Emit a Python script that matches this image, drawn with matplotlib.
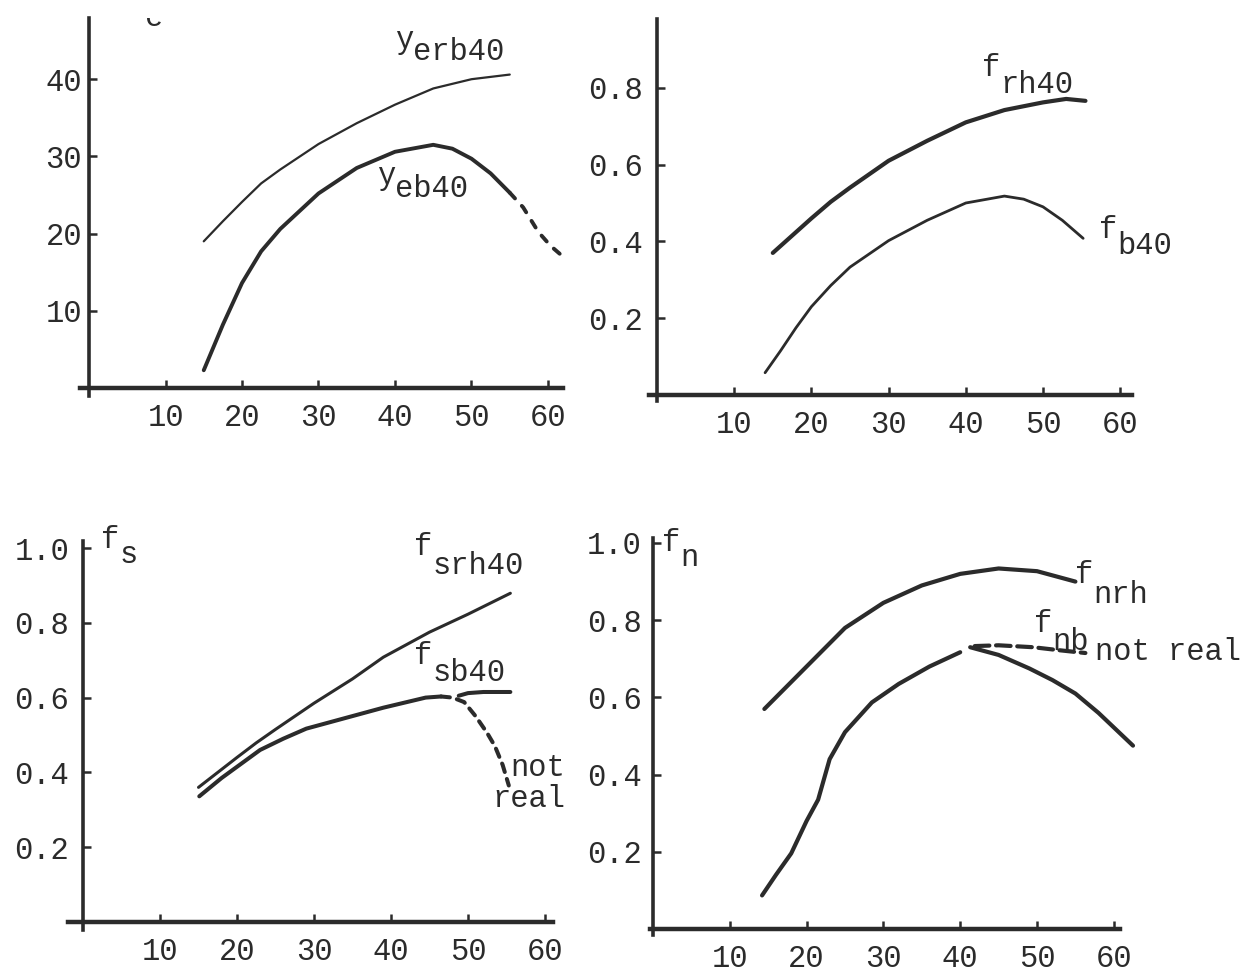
import matplotlib
matplotlib.use("Agg")
import matplotlib.pyplot as plt

plt.rcParams['font.family'] = ['Liberation Mono', 'DejaVu Sans Mono']
plt.rcParams['font.size'] = 22

INK = '#2b2b2b'
W, H = 1259, 975

# --- yields (upper left) ---
yerb_x = [15, 17.5, 20, 22.5, 25, 30, 35, 40, 45, 50, 55]
yerb_y = [19, 21.6, 24.1, 26.5, 28.3, 31.6, 34.3, 36.7, 38.8, 40.0, 40.6]
yeb_x = [15, 17.5, 20, 22.5, 25, 30, 35, 40, 45, 47.5, 50, 52.5, 55]
yeb_y = [2.3, 8.2, 13.6, 17.7, 20.6, 25.2, 28.5, 30.6, 31.5, 31.0, 29.7, 27.8, 25.3]
yeb_ext_x = [55, 56.75, 58.75, 60.35, 61.75]
yeb_ext_y = [25.3, 23.4, 20.2, 18.4, 17.2]

# --- f_rh40 / f_b40 (upper right) ---
frh_x = [15, 17.5, 20, 22.5, 25, 30, 35, 40, 45, 50, 53, 55.5]
frh_y = [0.37, 0.415, 0.46, 0.503, 0.54, 0.61, 0.662, 0.71, 0.742, 0.762, 0.771, 0.766]
fb_x = [14, 16, 18, 20, 22.5, 25, 30, 35, 40, 45, 47.5, 50, 52.5, 55.2]
fb_y = [0.058, 0.115, 0.175, 0.23, 0.285, 0.333, 0.402, 0.455, 0.5, 0.518, 0.51, 0.49, 0.455, 0.408]

# --- f_s (lower left) ---
fsrh_x = [15, 20, 22.5, 25, 30, 35, 39, 45, 50, 55.5]
fsrh_y = [0.36, 0.44, 0.479, 0.515, 0.585, 0.65, 0.708, 0.775, 0.823, 0.879]
fsb_x = [15.1, 18, 20, 23, 26, 29, 34, 39, 44.5, 46.5]
fsb_y = [0.336, 0.385, 0.415, 0.46, 0.49, 0.517, 0.545, 0.573, 0.6, 0.603]
fsb_drop_x = [46.5, 48, 49.5, 51, 52.5, 53.5, 54.5, 55.3]
fsb_drop_y = [0.603, 0.6, 0.588, 0.55, 0.505, 0.47, 0.42, 0.365]
fsb_flat_x = [48.8, 50, 52, 55.5]
fsb_flat_y = [0.605, 0.612, 0.615, 0.615]

# --- f_n (lower right) ---
fnrh_x = [14.5, 17.5, 20, 22.5, 25, 30, 35, 40, 45, 50, 55]
fnrh_y = [0.57, 0.63, 0.68, 0.73, 0.78, 0.845, 0.89, 0.92, 0.934, 0.927, 0.9]
fnb_x = [14.2, 16, 18, 20, 21.5, 23, 25, 28.5, 32, 36, 40]
fnb_y = [0.087, 0.14, 0.196, 0.28, 0.335, 0.44, 0.51, 0.587, 0.635, 0.68, 0.717]
fnb2_x = [41.3, 45, 49, 52, 55, 58, 62.5]
fnb2_y = [0.73, 0.71, 0.675, 0.645, 0.61, 0.56, 0.475]
fnb_flat_x = [41.9, 45, 49.5, 53, 56.3]
fnb_flat_y = [0.733, 0.735, 0.73, 0.722, 0.715]

age_ticks = [10, 20, 30, 40, 50, 60]
yield_ticks = [10, 20, 30, 40]
frac_ticks = [0.2, 0.4, 0.6, 0.8]
frac_ticks10 = [0.2, 0.4, 0.6, 0.8, 1.0]

fig = plt.figure(figsize=(W / 100, H / 100), dpi=100)


def panel(x0, y0, sx, sy, xlim, ylim, yticks, ylabels, ypad):
    # x0,y0 = pixel position of the data origin, sx,sy = pixels per unit
    left = x0 + xlim[0] * sx
    right = x0 + xlim[1] * sx
    top = y0 - ylim[1] * sy
    bottom = y0 - ylim[0] * sy
    ax = fig.add_axes([left / W, 1 - bottom / H, (right - left) / W, (bottom - top) / H])
    ax.set_xlim(*xlim)
    ax.set_ylim(*ylim)
    ax.patch.set_alpha(0)
    for s in ('top', 'right'):
        ax.spines[s].set_visible(False)
    ax.spines['left'].set_position(('data', 0))
    ax.spines['bottom'].set_position(('data', 0))
    ax.spines['left'].set_linewidth(2.6)
    ax.spines['bottom'].set_linewidth(3.2)
    ax.spines['left'].set_color(INK)
    ax.spines['bottom'].set_color(INK)
    ax.set_xticks(age_ticks)
    ax.set_yticks(yticks)
    ax.set_yticklabels(ylabels)
    ax.tick_params(axis='x', direction='in', length=6, width=1.8, pad=11, colors=INK)
    ax.tick_params(axis='y', direction='in', length=6, width=1.8, pad=ypad, colors=INK)
    return ax


def sublabel(ax, x, y, main, sub, dy=-11, dx=None):
    if dx is None:
        dx = 0.6 * plt.rcParams['font.size']
    ax.annotate(main, (x, y), ha='left', va='baseline', color=INK, annotation_clip=False)
    ax.annotate(sub, (x, y), xytext=(dx, dy), textcoords='offset points',
                ha='left', va='baseline', color=INK, annotation_clip=False)


# upper left: yields
ax1 = panel(89, 388, 7.65, 7.72, (-1.2, 62.0), (-1.0, 47.9),
            yield_ticks, [str(t) for t in yield_ticks], 5)
ax1.plot(yerb_x, yerb_y, color=INK, lw=1.6, solid_capstyle='round')
ax1.plot(yeb_x, yeb_y, color=INK, lw=2.8, solid_capstyle='round')
ax1.plot(yeb_ext_x, yeb_ext_y, color=INK, lw=2.8, ls=(0, (2, 2.6)), dash_capstyle='round')
sublabel(ax1, 40.0, 44.1, 'y', 'erb40', dy=-9)
sublabel(ax1, 37.6, 26.4, 'y', 'eb40', dy=-9)
ax1.text(7.3, 46.9, 'e', ha='left', va='baseline', color=INK, clip_on=True)

# upper right: f_rh40 and f_b40
ax2 = panel(657, 395, 7.72, 384, (-1.0, 61.5), (-0.015, 0.98),
            frac_ticks, ['0.2', '0.4', '0.6', '0.8'], 10)
ax2.plot(frh_x, frh_y, color=INK, lw=3.0, solid_capstyle='round')
ax2.plot(fb_x, fb_y, color=INK, lw=2.0, solid_capstyle='round')
sublabel(ax2, 42.1, 0.83, 'f', 'rh40', dy=-12)
sublabel(ax2, 57.3, 0.41, 'f', 'b40', dy=-12)

# lower left: f_s
ax3 = panel(83, 922, 7.7, 374, (-2.0, 61.0), (-0.022, 1.02),
            frac_ticks10, ['0.2', '0.4', '0.6', '0.8', '1.0'], 10)
ax3.plot(fsrh_x, fsrh_y, color=INK, lw=2.2, solid_capstyle='round')
ax3.plot(fsb_x, fsb_y, color=INK, lw=2.9, solid_capstyle='round')
ax3.plot(fsb_drop_x, fsb_drop_y, color=INK, lw=2.9, ls=(0, (2.2, 1.8)), dash_capstyle='round')
ax3.plot(fsb_flat_x, fsb_flat_y, color=INK, lw=2.9, solid_capstyle='round')
sublabel(ax3, 43.0, 0.98, 'f', 'srh40', dy=-13)
sublabel(ax3, 43.0, 0.69, 'f', 'sb40', dy=-12)
sublabel(ax3, 2.4, 1.0, 'f', 's', dy=-11)
ax3.text(62.6, 0.39, 'not', ha='right', va='baseline', color=INK)
ax3.text(62.6, 0.307, 'real', ha='right', va='baseline', color=INK)

# lower right: f_n
ax4 = panel(653, 929, 7.68, 386, (-0.4, 60.8), (-0.015, 1.013),
            frac_ticks10, ['0.2', '0.4', '0.6', '0.8', '1.0'], 8)
ax4.plot(fnrh_x, fnrh_y, color=INK, lw=3.0, solid_capstyle='round')
ax4.plot(fnb_x, fnb_y, color=INK, lw=3.0, solid_capstyle='round')
ax4.plot(fnb2_x, fnb2_y, color=INK, lw=3.0, solid_capstyle='round', clip_on=False)
ax4.plot(fnb_flat_x, fnb_flat_y, color=INK, lw=3.0, ls=(0, (3.5, 1.6)), dash_capstyle='round')
sublabel(ax4, 54.9, 0.896, 'f', 'nrh', dy=-14)
sublabel(ax4, 49.6, 0.77, 'f', 'nb', dy=-13)
ax4.text(57.6, 0.697, 'not real', ha='left', va='baseline', color=INK)
sublabel(ax4, 1.2, 0.98, 'f', 'n', dy=-11)

fig.savefig('out.png', dpi=100, facecolor='white')
